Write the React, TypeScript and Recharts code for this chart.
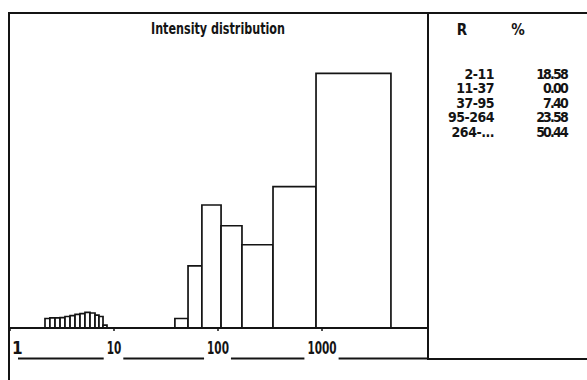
import { ComposedChart, ReferenceArea, Scatter, XAxis, YAxis } from "recharts";

// histogram bins (lower edge, upper edge, relative height)
const binFrom = [
  2.17, 2.42, 2.71, 3.03, 3.38, 3.78, 4.22, 4.71, 5.26, 5.88, 6.57, 7.17, 7.84,
  38.5, 51.5, 70, 107, 170, 338, 876,
];
const binTo = [
  2.42, 2.71, 3.03, 3.38, 3.78, 4.22, 4.71, 5.26, 5.88, 6.57, 7.17, 7.84, 8.56,
  51.5, 70, 107, 170, 338, 876, 4600,
];
const binValue = [
  3.3, 3.5, 3.5, 3.6, 4.0, 4.3, 4.7, 5.0, 5.4, 5.2, 4.5, 4.0, 1.0,
  3.3, 21.6, 42.7, 35.5, 28.9, 49.1, 88.4,
];

const xTicks = [1, 10, 100, 1000];
const xMax = 10450;

const rangeLabels = ["2-11", "11-37", "37-95", "95-264", "264-..."];
const rangePercents = ["18.58", "0.00", "7.40", "23.58", "50.44"];

const TITLE = "Intensity distribution";

const FONT = '"Liberation Sans Narrow", "DejaVu Sans Condensed", "Roboto Condensed", sans-serif';
const INK = "#141414";

const W = 587;
const H = 380;
const PANEL_X = 428;
const PLOT_LEFT = 10;
const DECADE = (PANEL_X - PLOT_LEFT) / Math.log10(xMax);
const DIGIT_W = 7.3;

const bins = binFrom.map((lo, i) => ({
  lo,
  hi: binTo[i],
  mid: Math.sqrt(lo * binTo[i]),
  value: binValue[i],
}));

function DecadeTick(props: any) {
  const { x, y, payload } = props;
  const label = String(payload.value);
  const half = (label.length * DIGIT_W) / 2;
  const first = payload.value === xTicks[0];
  const textX = first ? x + 2 : x;
  const textEnd = first ? x + 6 : x + half;
  const nextLabel = String(payload.value * 10);
  const last = payload.value === xTicks[xTicks.length - 1];
  const lineEnd = last ? PANEL_X : x + DECADE - (nextLabel.length * DIGIT_W) / 2 - 3;
  return (
    <g>
      <text
        x={textX}
        y={y + 21}
        textAnchor={first ? "start" : "middle"}
        fontFamily={FONT}
        fontWeight="bold"
        fontSize={17}
        textLength={label.length > 1 ? label.length * DIGIT_W : undefined}
        lengthAdjust="spacingAndGlyphs"
        fill={INK}
      >
        {label}
      </text>
      <line x1={textEnd + 2} x2={lineEnd} y1={y + 25.5} y2={y + 25.5} stroke={INK} strokeWidth={1.8} />
    </g>
  );
}

export default function App() {
  return (
    <div style={{ position: "absolute", left: 0, top: 0, width: W, height: H, background: "#fff" }}>
      <div style={{ position: "absolute", left: 0, top: 0 }}>
        <ComposedChart
          width={PANEL_X}
          height={H}
          data={bins}
          margin={{ top: 40, right: 0, bottom: 12, left: PLOT_LEFT }}
        >
          <XAxis
            dataKey="mid"
            type="number"
            scale="log"
            domain={[1, xMax]}
            ticks={xTicks}
            allowDataOverflow
            height={40}
            tickSize={3}
            tick={<DecadeTick />}
            axisLine={{ stroke: INK, strokeWidth: 2 }}
            tickLine={{ stroke: INK, strokeWidth: 1.5 }}
          />
          <YAxis hide domain={[0, 100]} />
          {bins.map((b, i) => (
            <ReferenceArea
              key={i}
              x1={b.lo}
              x2={b.hi}
              y1={0}
              y2={b.value}
              fill="#fff"
              fillOpacity={1}
              stroke={INK}
              strokeWidth={1.7}
              ifOverflow="visible"
            />
          ))}
          <Scatter dataKey="value" isAnimationActive={false} shape={() => <g />} />
        </ComposedChart>
      </div>
      <svg
        width={W}
        height={H}
        style={{ position: "absolute", left: 0, top: 0, pointerEvents: "none" }}
      >
        <line x1={8} x2={W} y1={13} y2={13} stroke={INK} strokeWidth={2} />
        <line x1={9} x2={9} y1={12} y2={H} stroke={INK} strokeWidth={2} />
        <line x1={PANEL_X} x2={PANEL_X} y1={12} y2={360} stroke={INK} strokeWidth={2} />
        <line x1={PANEL_X} x2={W} y1={359} y2={359} stroke={INK} strokeWidth={2} />
        <text
          x={218}
          y={34}
          textAnchor="middle"
          fontFamily={FONT}
          fontWeight={600}
          fontSize={16}
          textLength={134}
          lengthAdjust="spacingAndGlyphs"
          fill={INK}
        >
          {TITLE}
        </text>
        <text x={462} y={35} textAnchor="middle" fontFamily={FONT} fontWeight="bold" fontSize={15} fill={INK}>
          R
        </text>
        <text x={518} y={35} textAnchor="middle" fontFamily={FONT} fontWeight="bold" fontSize={15} fill={INK}>
          %
        </text>
        {rangeLabels.map((r, i) => (
          <g key={r} fontFamily={FONT} fontWeight="bold" fontSize={14} fill={INK}>
            <text x={494} y={78.5 + i * 14.5} textAnchor="end" letterSpacing={-0.5}>
              {r}
            </text>
            <text x={567} y={78.5 + i * 14.5} textAnchor="end" letterSpacing={-1.8}>
              {rangePercents[i]}
            </text>
          </g>
        ))}
      </svg>
    </div>
  );
}
